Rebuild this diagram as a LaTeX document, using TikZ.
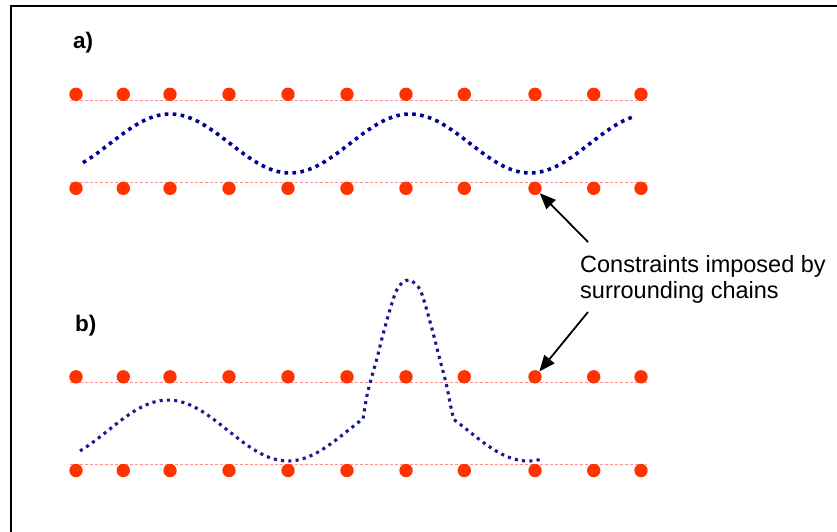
\documentclass[tikz,border=0pt]{standalone}
\usepackage{fontspec}
\setmainfont{Liberation Sans}
\usetikzlibrary{arrows.meta}
\definecolor{dotred}{RGB}{255,51,0}
\definecolor{guide}{RGB}{255,145,145}
\definecolor{chainA}{RGB}{0,0,150}
\definecolor{chainB}{RGB}{25,25,145}
\tikzset{
  bead/.style={circle,fill=dotred,inner sep=0pt,minimum size=13.4pt},
  guideline/.style={draw=guide,line width=0.8pt,dash pattern=on 3pt off 2pt},
  chaina/.style={draw=chainA,line width=3.6pt,dash pattern=on 3.6pt off 4.4pt},
  chainb/.style={draw=chainB,line width=3.1pt,dash pattern=on 3.1pt off 4.2pt},
  pointer/.style={draw=black,line width=1.8pt,-{Triangle[length=16pt,width=13pt]}},
  panellabel/.style={anchor=base west,font=\fontsize{22.5}{26}\selectfont\bfseries,inner sep=0pt},
  note/.style={anchor=base west,font=\fontsize{23.5}{26}\selectfont,inner sep=0pt}
}
\begin{document}
\begin{tikzpicture}[x=1pt,y=-1pt]
\useasboundingbox (0,0) rectangle (837,531);
% frame (top and left edges visible)
\draw[line width=2.2pt] (11,540) -- (11,6) -- (845,6);
% labels
\node[panellabel] (la) at (73,48.5) {a)};
\node[panellabel] (lb) at (75,331) {b)};
% guide lines
\draw[guideline] (70,100) -- (647,100);
\draw[guideline] (70,182.5) -- (647,182.5);
\draw[guideline] (70,382.5) -- (647,382.5);
\draw[guideline] (70,464.5) -- (647,464.5);
% beads
\foreach \xx [count=\i] in {76,123.3,170,229,288,347,406,464.3,535,593.7,641}{
  \node[bead] (at\i) at (\xx,94.3) {};
  \node[bead] (ab\i) at (\xx,188.3) {};
  \node[bead] (bt\i) at (\xx,376.8) {};
  \node[bead] (bb\i) at (\xx,470.5) {};
}
% chain a
\draw[chaina] plot[domain=83:635,samples=140] (\x,{143.5-29.5*cos(1.5*(\x-170))});
% chain b
\draw[chainb] plot[domain=80:363,samples=70] (\x,{430.5-30.5*cos(1.5*(\x-168))})
  -- plot[smooth,tension=0.55] coordinates {(363,418.8) (366.5,398) (370,383) (376.5,360) (385,327) (395,294) (402,283) (409,280) (415,283.5) (421.5,293) (431.5,327) (440,360) (446,383) (451.5,410) (454,419.6)}
  -- plot[domain=454:542,samples=30] (\x,{430.5-30.5*cos(1.5*(\x-168))});
% annotation
\node[note] (t1) at (580,272) {Constraints imposed by};
\node[note] (t2) at (580,298) {surrounding chains};
\coordinate (p1) at (588,242);
\coordinate (p2) at (588,312);
\draw[pointer] (p1) -- (ab9);
\draw[pointer] (p2) -- (bt9);
\end{tikzpicture}
\end{document}
